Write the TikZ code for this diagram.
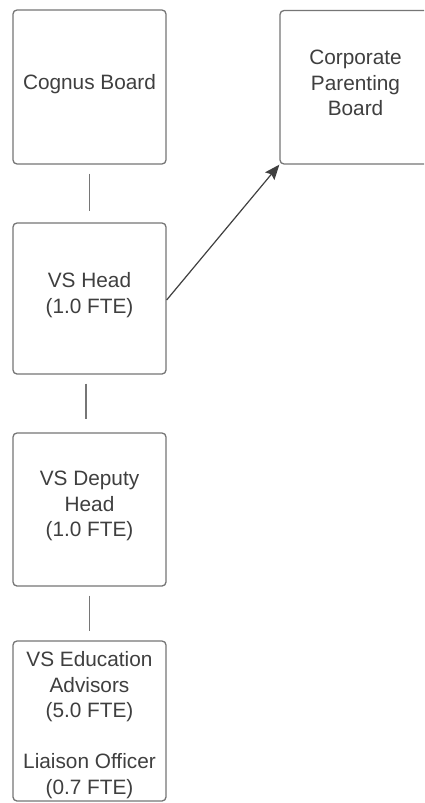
\documentclass[tikz,border=0pt]{standalone}
\usepackage{fontspec}
\setmainfont{Liberation Sans}
\usetikzlibrary{arrows.meta}
\definecolor{edge}{HTML}{767676}
\definecolor{txt}{HTML}{3F3F3F}
\definecolor{tip}{HTML}{333333}
\tikzset{
  box/.style={draw=edge, line width=1.3pt, rounded corners=4pt, inner sep=0pt, minimum width=153pt},
  lbl/.style={text=txt, align=center, font=\fontsize{20.8}{25.5}\selectfont, inner sep=0pt},
  link/.style={draw=edge, line width=1.3pt},
  arr/.style={draw=tip!80!edge, line width=1.2pt, -{Stealth[length=15pt,width=12pt,inset=2.5pt]}}
}
\begin{document}
\begin{tikzpicture}[x=1pt,y=-1pt]
\clip (0,0) rectangle (424,803);
\useasboundingbox (0,0) rectangle (424,803);
\fill[white] (0,0) rectangle (424,803);
% boxes
\node[box, minimum height=154pt] (cognus) at (89.5,87) {};
\node[box, minimum height=153.5pt] (corp) at (356.5,87.25) {};
\node[box, minimum height=151pt] (head) at (89.5,298.5) {};
\node[box, minimum height=153pt] (deputy) at (89.5,509.5) {};
\node[box, minimum height=160pt] (edu) at (89.5,721) {};
% texts
\node[lbl] (tcognus) at (89.5,84) {Cognus Board};
\node[lbl] (tcorp) at (355.5,83) {Corporate\\Parenting\\Board};
\node[lbl] (thead) at (89.5,295) {VS Head\\(1.0 FTE)};
\node[lbl] (tdeputy) at (89.5,506) {VS Deputy\\Head\\(1.0 FTE)};
\node[lbl] (tedu) at (89.5,725) {VS Education\\Advisors\\(5.0 FTE)\\[25.5pt]Liaison Officer\\(0.7 FTE)};
% connectors
\draw[link, shorten <=9pt, shorten >=11pt] (cognus.south) -- (head.north);
\draw[link, shorten <=9pt, shorten >=13pt] ([xshift=-3.5pt]head.south) -- ([xshift=-3.5pt]deputy.north);
\draw[link, shorten <=9pt, shorten >=9pt] (deputy.south) -- (edu.north);
\draw[arr] ([yshift=-1.5pt]head.east) -- (corp.south west);
\end{tikzpicture}
\end{document}
